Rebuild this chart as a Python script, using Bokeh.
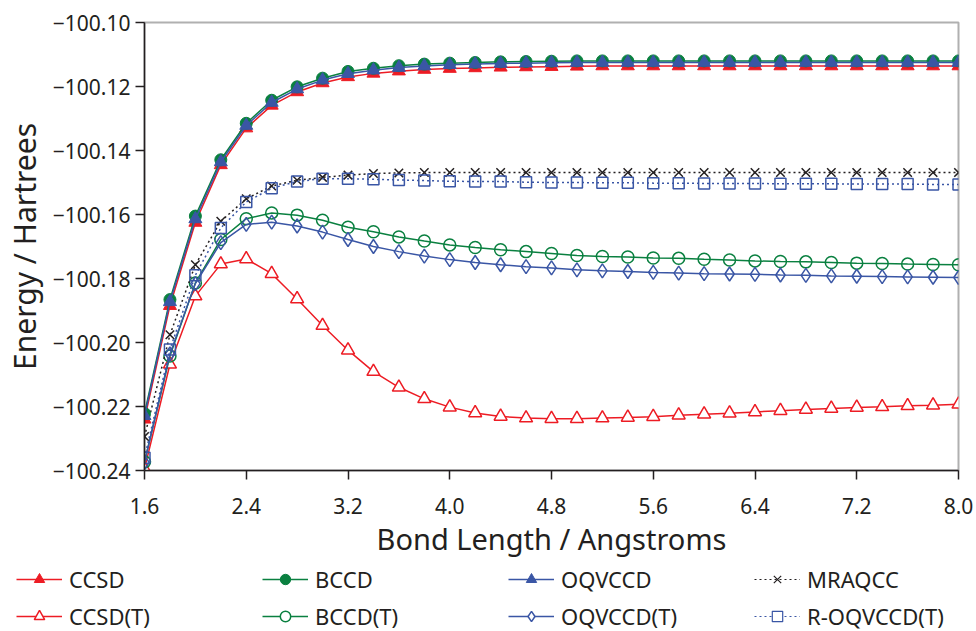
from bokeh.plotting import figure
from bokeh.layouts import column
from bokeh.models import Range1d, FixedTicker, CustomJSTickFormatter, Legend, LegendItem
from bokeh.embed import file_html
from bokeh.resources import INLINE

bond = [1.6, 1.8, 2.0, 2.2, 2.4, 2.6, 2.8, 3.0, 3.2, 3.4, 3.6, 3.8, 4.0, 4.2, 4.4, 4.6, 4.8,
        5.0, 5.2, 5.4, 5.6, 5.8, 6.0, 6.2, 6.4, 6.6, 6.8, 7.0, 7.2, 7.4, 7.6, 7.8, 8.0]

ccsd = [-100.2240, -100.1885, -100.1625, -100.1445, -100.1330, -100.1259, -100.1217, -100.1189,
        -100.1170, -100.1159, -100.1152, -100.1147, -100.1144, -100.1142, -100.1140, -100.1139,
        -100.1138, -100.1137, -100.1136, -100.1136, -100.1136, -100.1136, -100.1136, -100.1136,
        -100.1136, -100.1136, -100.1136, -100.1136, -100.1136, -100.1136, -100.1136, -100.1136, -100.1136]
bccd = [-100.2222, -100.1866, -100.1605, -100.1429, -100.1315, -100.1243, -100.1201, -100.1174,
        -100.1153, -100.1143, -100.1135, -100.1130, -100.1127, -100.1125, -100.1123, -100.1122,
        -100.1121, -100.1120, -100.1120, -100.1120, -100.1120, -100.1120, -100.1120, -100.1120,
        -100.1120, -100.1120, -100.1120, -100.1120, -100.1120, -100.1120, -100.1120, -100.1120, -100.1120]
oqvccd = [-100.2229, -100.1873, -100.1614, -100.1436, -100.1322, -100.1250, -100.1208, -100.1180,
          -100.1160, -100.1149, -100.1141, -100.1136, -100.1132, -100.1130, -100.1128, -100.1127,
          -100.1126, -100.1125, -100.1125, -100.1125, -100.1125, -100.1125, -100.1125, -100.1125,
          -100.1125, -100.1125, -100.1125, -100.1125, -100.1125, -100.1125, -100.1125, -100.1125, -100.1125]
mraqcc = [-100.2294, -100.1976, -100.1757, -100.1621, -100.1551, -100.1511, -100.1493, -100.1484,
          -100.1477, -100.1472, -100.1470, -100.1469, -100.1469, -100.1469, -100.1469, -100.1469,
          -100.1469, -100.1469, -100.1469, -100.1469, -100.1469, -100.1469, -100.1469, -100.1469,
          -100.1469, -100.1469, -100.1469, -100.1469, -100.1469, -100.1469, -100.1469, -100.1469, -100.1469]
ccsd_t = [-100.2395, -100.2068, -100.1855, -100.1755, -100.1739, -100.1785, -100.1864, -100.1947,
          -100.2024, -100.2091, -100.2140, -100.2176, -100.2202, -100.2220, -100.2231, -100.2236,
          -100.2238, -100.2238, -100.2236, -100.2234, -100.2232, -100.2227, -100.2224, -100.2221,
          -100.2217, -100.2213, -100.2209, -100.2206, -100.2203, -100.2201, -100.2198, -100.2196, -100.2193]
bccd_t = [-100.2373, -100.2042, -100.1814, -100.1678, -100.1613, -100.1595, -100.1602, -100.1618,
          -100.1640, -100.1654, -100.1670, -100.1683, -100.1695, -100.1703, -100.1710, -100.1716,
          -100.1722, -100.1728, -100.1731, -100.1733, -100.1736, -100.1737, -100.1740, -100.1742,
          -100.1745, -100.1747, -100.1748, -100.1750, -100.1752, -100.1753, -100.1755, -100.1756, -100.1757]
oqvccd_t = [-100.2375, -100.2036, -100.1816, -100.1688, -100.1631, -100.1624, -100.1636, -100.1655,
            -100.1678, -100.1700, -100.1716, -100.1730, -100.1741, -100.1750, -100.1757, -100.1763,
            -100.1767, -100.1773, -100.1776, -100.1778, -100.1781, -100.1783, -100.1785, -100.1786,
            -100.1787, -100.1789, -100.1790, -100.1792, -100.1793, -100.1794, -100.1795, -100.1796, -100.1797]
r_oqvccd_t = [-100.2360, -100.2022, -100.1790, -100.1642, -100.1561, -100.1518, -100.1497, -100.1488,
              -100.1488, -100.1490, -100.1492, -100.1494, -100.1496, -100.1497, -100.1497, -100.1499,
              -100.1500, -100.1500, -100.1501, -100.1501, -100.1502, -100.1502, -100.1503, -100.1503,
              -100.1503, -100.1504, -100.1504, -100.1504, -100.1505, -100.1505, -100.1505, -100.1506, -100.1506]

x_ticks = [1.6, 2.4, 3.2, 4.0, 4.8, 5.6, 6.4, 7.2, 8.0]
y_ticks = [-100.24, -100.22, -100.20, -100.18, -100.16, -100.14, -100.12, -100.10]
series_names = ["CCSD", "BCCD", "OQVCCD", "MRAQCC", "CCSD(T)", "BCCD(T)", "OQVCCD(T)", "R-OQVCCD(T)"]

RED = "#ED1C24"
GREEN = "#0A8040"
BLUE = "#3A56A5"
BLACK = "#231F20"
FONT = "Noto Sans"

p = figure(width=976, height=560, output_backend="svg", toolbar_location=None,
           x_range=Range1d(1.6, 8.0), y_range=Range1d(-100.24, -100.10),
           min_border_left=143, min_border_right=18, min_border_top=22, min_border_bottom=84)
p.frame_align = False
p.grid.visible = False
p.outline_line_color = "#B0B0B0"
p.outline_line_width = 2
p.background_fill_color = "white"
p.border_fill_color = "white"

p.xaxis.ticker = FixedTicker(ticks=x_ticks)
p.yaxis.ticker = FixedTicker(ticks=y_ticks)
p.yaxis.formatter = CustomJSTickFormatter(code="return '\u2212' + Math.abs(tick).toFixed(2);")
p.xaxis.formatter = CustomJSTickFormatter(code="return tick.toFixed(1);")
for ax in (p.xaxis, p.yaxis):
    ax.axis_line_color = BLACK
    ax.axis_line_width = 1.5
    ax.major_tick_line_color = BLACK
    ax.major_tick_line_width = 1.5
    ax.major_tick_in = 0
    ax.major_tick_out = 9
    ax.minor_tick_line_color = None
    ax.major_label_text_font = FONT
    ax.major_label_text_font_size = "21px"
    ax.major_label_text_color = BLACK
    ax.axis_label_text_font = FONT
    ax.axis_label_text_font_style = "normal"
    ax.axis_label_text_color = BLACK
p.xaxis.axis_label = "Bond Length / Angstroms"
p.yaxis.axis_label = "Energy / Hartrees"
p.xaxis.axis_label_text_font_size = "29px"
p.yaxis.axis_label_text_font_size = "30px"
p.xaxis.major_label_standoff = 18
p.yaxis.major_label_standoff = 5
p.xaxis.axis_label_standoff = 2
p.yaxis.axis_label_standoff = 5

S = 12
LW = 1.5

# (T) and multireference series
l_ccsd_t = p.line(bond, ccsd_t, color=RED, line_width=LW)
m_ccsd_t = p.scatter(bond, ccsd_t, marker="triangle", size=S + 1, fill_color="white", line_color=RED, line_width=LW)
l_bccd_t = p.line(bond, bccd_t, color=GREEN, line_width=LW)
m_bccd_t = p.scatter(bond, bccd_t, marker="circle", size=S, fill_color="white", fill_alpha=0, line_color=GREEN, line_width=LW)
l_oq_t = p.line(bond, oqvccd_t, color=BLUE, line_width=LW)
m_oq_t = p.scatter(bond, oqvccd_t, marker="diamond", size=S + 2, fill_color="white", fill_alpha=0, line_color=BLUE, line_width=LW)
l_mr = p.line(bond, mraqcc, color=BLACK, line_width=LW, line_dash="2 3")
m_mr = p.scatter(bond, mraqcc, marker="x", size=S, line_color=BLACK, line_width=LW)
l_roq = p.line(bond, r_oqvccd_t, color=BLUE, line_width=LW, line_dash="2 3")
m_roq = p.scatter(bond, r_oqvccd_t, marker="square", size=S - 1, fill_color="white", fill_alpha=0, line_color=BLUE, line_width=LW)

# upper curves
l_ccsd = p.line(bond, ccsd, color=RED, line_width=LW)
m_ccsd = p.scatter(bond, ccsd, marker="triangle", size=S + 1, color=RED)
l_bccd = p.line(bond, bccd, color=GREEN, line_width=LW)
m_bccd = p.scatter(bond, bccd, marker="circle", size=S, color=GREEN)
l_oq = p.line(bond, oqvccd, color=BLUE, line_width=LW)
m_oq = p.scatter(bond, oqvccd, marker="triangle", size=S + 1, color=BLUE)

# legend strip below the chart: proxy glyphs with one hidden point each (outside the strip's range)
lf = figure(width=976, height=71, output_backend="svg", toolbar_location=None,
            x_axis_type=None, y_axis_type=None,
            min_border_left=0, min_border_right=0, min_border_top=0, min_border_bottom=0,
            x_range=Range1d(0, 1), y_range=Range1d(0, 1))
lf.frame_align = False
lf.grid.visible = False
lf.outline_line_color = None
hx, hy = [-5], [-5]
LS = 8
proxies = [
    (lf.line(hx, hy, color=RED, line_width=LW), lf.scatter(hx, hy, marker="triangle", size=LS + 1, color=RED)),
    (lf.line(hx, hy, color=GREEN, line_width=LW), lf.scatter(hx, hy, marker="circle", size=LS, color=GREEN)),
    (lf.line(hx, hy, color=BLUE, line_width=LW), lf.scatter(hx, hy, marker="triangle", size=LS + 1, color=BLUE)),
    (lf.line(hx, hy, color=BLACK, line_width=1.2, line_dash="2 3"), lf.scatter(hx, hy, marker="x", size=LS, line_color=BLACK, line_width=1.2)),
    (lf.line(hx, hy, color=RED, line_width=LW), lf.scatter(hx, hy, marker="triangle", size=LS + 1, fill_color="white", line_color=RED, line_width=LW)),
    (lf.line(hx, hy, color=GREEN, line_width=LW), lf.scatter(hx, hy, marker="circle", size=LS, fill_color="white", line_color=GREEN, line_width=LW)),
    (lf.line(hx, hy, color=BLUE, line_width=LW), lf.scatter(hx, hy, marker="diamond", size=LS + 2, fill_color="white", line_color=BLUE, line_width=LW)),
    (lf.line(hx, hy, color=BLUE, line_width=1.2, line_dash="2 3"), lf.scatter(hx, hy, marker="square", size=LS, fill_color="white", line_color=BLUE, line_width=1.2)),
]
items = [LegendItem(label=n, renderers=list(r)) for n, r in zip(series_names, proxies)]
legend = Legend(items=items, orientation="horizontal", ncols=4,
                glyph_width=46, glyph_height=26, label_height=26, label_standoff=7, label_width=186,
                spacing=7, padding=0, margin=0,
                label_text_font=FONT, label_text_font_size="22px", label_text_color=BLACK,
                background_fill_alpha=0, border_line_color=None,
                location=(16, 0))
lf.add_layout(legend, "center")

layout = column(p, lf, spacing=0)
open("out.html", "w").write(file_html(layout, INLINE))
